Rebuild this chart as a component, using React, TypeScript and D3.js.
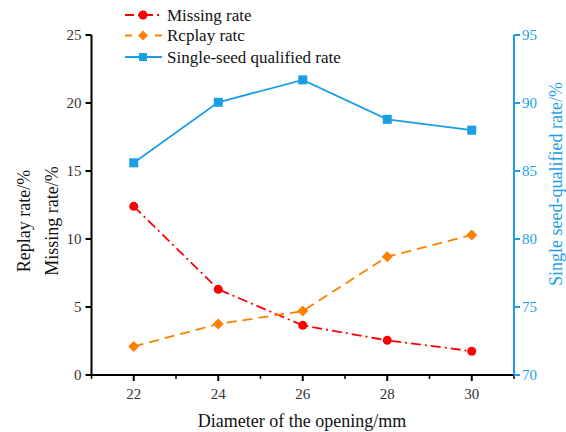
import React from "react";
import * as d3 from "d3";

const diameters = [22, 24, 26, 28, 30];
const missingRate = [12.4, 6.3, 3.65, 2.55, 1.75];
const replayRate = [2.1, 3.75, 4.7, 8.7, 10.3];
const qualifiedRate = [85.6, 90.05, 91.7, 88.8, 88.0];
const leftTicks = [0, 5, 10, 15, 20, 25];
const rightTicks = [70, 75, 80, 85, 90, 95];
const xTicks = [22, 24, 26, 28, 30];
const xMinorTicks = [21, 23, 25, 27, 29, 31];

const RED = "#ff0000";
const ORANGE = "#ff8000";
const BLUE = "#1a9fe6";
const FONT = "'Liberation Serif', 'Times New Roman', serif";

export default function App() {
  const W = 566, H = 432;
  const x = d3.scaleLinear().domain([21, 31]).range([91.5, 514]);
  const yL = d3.scaleLinear().domain([0, 25]).range([375, 35]);
  const yR = d3.scaleLinear().domain([70, 95]).range([375, 35]);

  const lineL = d3.line<[number, number]>().x(d => x(d[0])).y(d => yL(d[1]));
  const lineR = d3.line<[number, number]>().x(d => x(d[0])).y(d => yR(d[1]));

  const missPts: [number, number][] = diameters.map((d, i) => [d, missingRate[i]]);
  const repPts: [number, number][] = diameters.map((d, i) => [d, replayRate[i]]);
  const qualPts: [number, number][] = diameters.map((d, i) => [d, qualifiedRate[i]]);

  const diamond = (cx: number, cy: number, s: number) =>
    `M${cx},${cy - s}L${cx + s},${cy}L${cx},${cy + s}L${cx - s},${cy}Z`;

  const legend = [
    { label: "Missing rate", color: RED, dash: "9 4 2 4", mark: "circle", y: 15 },
    { label: "Rcplay ratc", color: ORANGE, dash: "7 8", mark: "diamond", y: 35.5 },
    { label: "Single-seed qualified rate", color: BLUE, dash: "", mark: "square", y: 57 },
  ];

  return (
    <svg width={W} height={H} style={{ position: "absolute", left: 0, top: 0, background: "#fff" }} fontFamily={FONT}>
      {/* Lines */}
      <path d={lineL(missPts) || ""} fill="none" stroke={RED} strokeWidth={1.8} strokeDasharray="10 4 2 4" />
      <path d={lineL(repPts) || ""} fill="none" stroke={ORANGE} strokeWidth={1.8} strokeDasharray="10 6" />
      <path d={lineR(qualPts) || ""} fill="none" stroke={BLUE} strokeWidth={1.8} />
      {missPts.map((p, i) => (
        <circle key={"m" + i} cx={x(p[0])} cy={yL(p[1])} r={4.5} fill={RED} />
      ))}
      {repPts.map((p, i) => (
        <path key={"r" + i} d={diamond(x(p[0]), yL(p[1]), 5.5)} fill={ORANGE} />
      ))}
      {qualPts.map((p, i) => (
        <rect key={"q" + i} x={x(p[0]) - 4.5} y={yR(p[1]) - 4.5} width={9} height={9} fill={BLUE} />
      ))}

      {/* Left axis */}
      <line x1={x(21)} x2={x(21)} y1={yL(25)} y2={yL(0)} stroke="#000" strokeWidth={2} />
      {leftTicks.map(t => (
        <g key={"lt" + t}>
          <line x1={x(21) - 6} x2={x(21)} y1={yL(t)} y2={yL(t)} stroke="#000" strokeWidth={2} />
          <text x={x(21) - 10} y={yL(t)} dy="0.35em" textAnchor="end" fontSize={15} fill="#333">{t}</text>
        </g>
      ))}

      {/* Bottom axis */}
      <line x1={x(21)} x2={x(31)} y1={375} y2={375} stroke="#000" strokeWidth={2} />
      {xTicks.map(t => (
        <g key={"xt" + t}>
          <line x1={x(t)} x2={x(t)} y1={375} y2={381} stroke="#000" strokeWidth={2} />
          <text x={x(t)} y={399} textAnchor="middle" fontSize={15} fill="#333">{t}</text>
        </g>
      ))}
      {xMinorTicks.map(t => (
        <line key={"xm" + t} x1={x(t)} x2={x(t)} y1={375} y2={379} stroke="#000" strokeWidth={1.5} />
      ))}

      {/* Right axis */}
      <line x1={x(31)} x2={x(31)} y1={yR(95)} y2={yR(70)} stroke={BLUE} strokeWidth={2} />
      {rightTicks.map(t => (
        <g key={"rt" + t}>
          <line x1={x(31)} x2={x(31) + 6} y1={yR(t)} y2={yR(t)} stroke={BLUE} strokeWidth={2} />
          <text x={x(31) + 8} y={yR(t)} dy="0.35em" textAnchor="start" fontSize={15} fill={BLUE}>{t}</text>
        </g>
      ))}

      {/* Axis titles */}
      <text x={302} y={427} textAnchor="middle" fontSize={18} fill="#111">Diameter of the opening/mm</text>
      <text transform={`translate(30,221) rotate(-90)`} textAnchor="middle" fontSize={18} fill="#111">Replay rate/%</text>
      <text transform={`translate(58,221) rotate(-90)`} textAnchor="middle" fontSize={18} fill="#111">Missing rate/%</text>
      <text transform={`translate(562,184) rotate(-90)`} textAnchor="middle" fontSize={18} fill={BLUE}>Single seed-qualified rate/%</text>

      {/* Legend */}
      {legend.map(l => (
        <g key={l.label}>
          <line x1={125} x2={162} y1={l.y} y2={l.y} stroke={l.color} strokeWidth={1.8} strokeDasharray={l.dash || undefined} />
          {l.mark === "circle" && <circle cx={143} cy={l.y} r={4.5} fill={l.color} />}
          {l.mark === "diamond" && <path d={diamond(143, l.y, 5)} fill={l.color} />}
          {l.mark === "square" && <rect x={139} y={l.y - 4} width={8} height={8} fill={l.color} />}
          <text x={167} y={l.y} dy="0.35em" fontSize={17} fill="#111">{l.label}</text>
        </g>
      ))}
    </svg>
  );
}
